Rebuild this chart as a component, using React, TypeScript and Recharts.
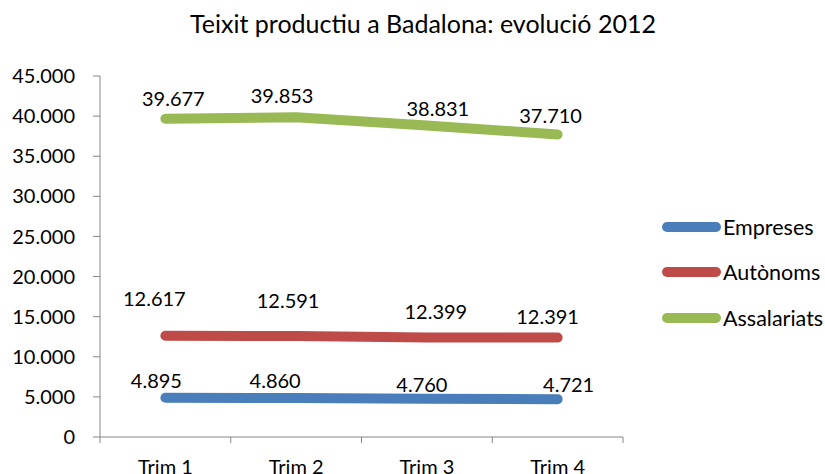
import React from "react";
import { LineChart, Line, XAxis, YAxis, LabelList, Legend } from "recharts";

const categories = ["Trim 1", "Trim 2", "Trim 3", "Trim 4"];
const empreses = [4895, 4860, 4760, 4721];
const autonoms = [12617, 12591, 12399, 12391];
const assalariats = [39677, 39853, 38831, 37710];
const yTicks = [0, 5000, 10000, 15000, 20000, 25000, 30000, 35000, 40000, 45000];
const seriesNames = ["Empreses", "Autònoms", "Assalariats"];
const title = "Teixit productiu a Badalona: evolució 2012";

const data = categories.map((c, i) => ({
  cat: c,
  empreses: empreses[i],
  autonoms: autonoms[i],
  assalariats: assalariats[i],
}));

// label placement offsets (style)
const LABEL_OFFSETS: Record<string, { dx: number[]; dy: number[] }> = {
  empreses: { dx: [-9, -21, -5, 11], dy: [-18, -18, -15, -15] },
  autonoms: { dx: [-11, -8, 9, -10], dy: [-38, -36, -27, -22] },
  assalariats: { dx: [8, -14, 11, -7], dy: [-21, -22, -17, -19] },
};

const COLORS = ["#4A7EBB", "#BE4B48", "#98B954"];
const KEYS = ["empreses", "autonoms", "assalariats"];
const FONT = "Lato, 'Open Sans', sans-serif";
const AXIS_COLOR = "#868686";

const W = 825;
const H = 474;
const MARGIN = { top: 76, right: 202, bottom: 0, left: 0 };
const Y_AXIS_W = 100;
const X_AXIS_H = 37;
const AXIS_Y = H - MARGIN.bottom - X_AXIS_H;
const HALF_BAND = (W - MARGIN.left - MARGIN.right - Y_AXIS_W) / categories.length / 2;

const fmt = (v: number) =>
  String(Math.round(v)).replace(/\B(?=(\d{3})+(?!\d))/g, ".");

const XTick = (props: any) => {
  const { x, payload, index } = props;
  return (
    <g>
      <line x1={x - HALF_BAND} y1={AXIS_Y} x2={x - HALF_BAND} y2={AXIS_Y + 6} stroke={AXIS_COLOR} strokeWidth={1} />
      {index === categories.length - 1 && (
        <line x1={x + HALF_BAND} y1={AXIS_Y} x2={x + HALF_BAND} y2={AXIS_Y + 6} stroke={AXIS_COLOR} strokeWidth={1} />
      )}
      <text x={x} y={474} textAnchor="middle" fontFamily={FONT} fontSize={20} fill="#000">
        {payload.value}
      </text>
    </g>
  );
};

const makeLabel = (key: string) => (props: any) => {
  const { x, y, value, index } = props;
  const o = LABEL_OFFSETS[key];
  return (
    <text
      x={x + o.dx[index]}
      y={y + o.dy[index]}
      textAnchor="middle"
      dominantBaseline="central"
      fontFamily={FONT}
      fontSize={20}
      fill="#000"
    >
      {fmt(value)}
    </text>
  );
};

const LegendContent = () => (
  <div style={{ fontFamily: FONT, fontSize: 21.5, color: "#000" }}>
    {seriesNames.map((n, i) => (
      <div key={n} style={{ display: "flex", alignItems: "center", height: 45.5 }}>
        <svg width={67} height={14} style={{ display: "block" }}>
          <line x1={11} y1={7} x2={60} y2={7} stroke={COLORS[i]} strokeWidth={10} strokeLinecap="round" />
        </svg>
        <span style={{ lineHeight: "20px", whiteSpace: "nowrap" }}>{n}</span>
      </div>
    ))}
  </div>
);

export default function App() {
  return (
    <div style={{ position: "absolute", left: 0, top: 0, width: W, height: H, background: "#fff", fontFamily: FONT }}>
      <div
        style={{
          position: "absolute",
          left: 0,
          width: 846,
          top: 11,
          textAlign: "center",
          fontSize: 25,
          lineHeight: "25px",
          color: "#000",
          whiteSpace: "nowrap",
        }}
      >
        {title}
      </div>
      <LineChart width={W} height={H} data={data} margin={MARGIN}>
        <XAxis
          dataKey="cat"
          height={X_AXIS_H}
          axisLine={{ stroke: AXIS_COLOR }}
          tickLine={false}
          tick={<XTick />}
          interval={0}
          padding={{ left: HALF_BAND, right: HALF_BAND }}
        />
        <YAxis
          width={Y_AXIS_W}
          domain={[0, 45000]}
          ticks={yTicks}
          tickFormatter={fmt}
          axisLine={{ stroke: AXIS_COLOR }}
          tickLine={{ stroke: AXIS_COLOR }}
          tickSize={7}
          tickMargin={18}
          tick={{ fontFamily: FONT, fontSize: 20, fill: "#000" }}
          interval={0}
        />
        <Legend
          layout="horizontal"
          verticalAlign="middle"
          align="center"
          content={<LegendContent />}
          wrapperStyle={{ left: 656, top: 204, width: 169, height: 140 }}
        />
        {KEYS.map((k, i) => (
          <Line
            key={k}
            dataKey={k}
            name={seriesNames[i]}
            type="linear"
            stroke={COLORS[i]}
            strokeWidth={10}
            strokeLinecap="round"
            strokeLinejoin="round"
            dot={false}
            activeDot={false}
            isAnimationActive={false}
          >
            <LabelList dataKey={k} content={makeLabel(k)} />
          </Line>
        ))}
      </LineChart>
    </div>
  );
}
